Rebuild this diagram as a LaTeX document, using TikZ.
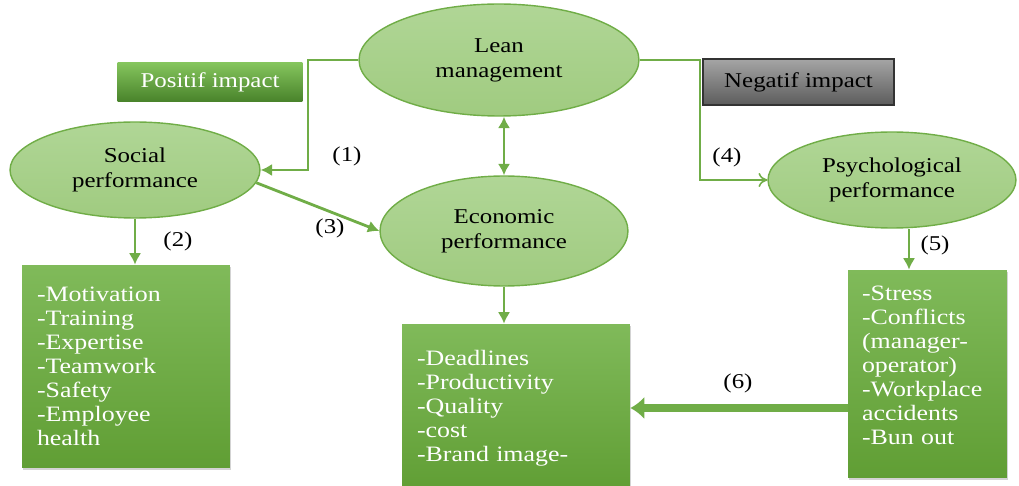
\documentclass[tikz,border=0pt]{standalone}
\usepackage{fontspec}
\setmainfont[FakeStretch=1.18]{Liberation Serif}
\usepackage{xcolor}
\usetikzlibrary{shapes.geometric,shadows,arrows.meta}
\definecolor{leafgreen}{RGB}{112,173,71}
\definecolor{ellipsetop}{RGB}{176,214,150}
\definecolor{ellipsebot}{RGB}{160,203,128}
\definecolor{boxtop}{RGB}{128,186,90}
\definecolor{boxbot}{RGB}{96,158,52}
\definecolor{positop}{RGB}{134,198,94}
\definecolor{posibot}{RGB}{72,130,42}
\definecolor{negatop}{RGB}{165,165,165}
\definecolor{negabot}{RGB}{92,92,92}
\tikzstyle{perf}=[ellipse, draw=leafgreen, line width=.8pt, top color=ellipsetop, bottom color=ellipsebot, align=center, font=\fontsize{12}{14.2}\selectfont]
\tikzstyle{items}=[rectangle, top color=boxtop, bottom color=boxbot, text=white, align=left, inner xsep=0.3cm, font=\fontsize{12.5}{13.7}\selectfont, drop shadow={opacity=.35,shadow xshift=.6pt,shadow yshift=-1.2pt}]
\tikzset{impact/.style={rectangle, font=\fontsize{12}{14}\selectfont}}
\tikzset{link/.style={-{Latex[length=6.5pt,width=7pt]}, line width=1.6pt, color=leafgreen}}
\tikzset{thinlink/.style={-{To[length=5pt,width=8pt]}, line width=.9pt, color=leafgreen}}
\tikzset{num/.style={font=\fontsize{12}{14}\selectfont}}

\begin{document}
\begin{tikzpicture}[x=0.02cm,y=-0.02cm]
  \useasboundingbox (0,0) rectangle (1019,486);
  %% Performance ellipses
  \draw (499,60) node[perf, minimum width=5.6cm, minimum height=2.24cm] (lean) {Lean\\management};
  \draw (135,170) node[perf, minimum width=5cm, minimum height=1.92cm] (soc) {Social\\performance};
  \draw (504,231) node[perf, minimum width=4.96cm, minimum height=2.2cm] (eco) {Economic\\performance};
  \draw (892,180) node[perf, minimum width=4.96cm, minimum height=1.92cm] (psy) {Psychological\\performance};

  %% Impact tags
  \draw (210,82) node[impact, top color=positop, bottom color=posibot, text=white, minimum width=3.7cm, minimum height=.8cm] (posi) {Positif impact};
  \draw (798.5,82) node[impact, draw=black!80, line width=.6pt, top color=negatop, bottom color=negabot, minimum width=3.82cm, minimum height=.92cm] (nega) {Negatif impact};

  %% Item lists
  \draw (126,366.5) node[items, text width=3.56cm, minimum height=4.06cm] (socbox) {-Motivation\\-Training\\-Expertise\\-Teamwork\\-Safety\\-Employee\\health};
  \draw (516,408) node[items, text width=3.96cm, minimum height=3.36cm] (ecobox) {-Deadlines\\-Productivity\\-Quality\\-cost\\-Brand image-};
  \draw (927.5,374) node[items, inner xsep=0.28cm, text width=2.62cm, minimum height=4.16cm] (psybox) {-Stress\\-Conflicts\\(manager-\\operator)\\-Workplace\\accidents\\-Bun out\\[-4pt]\mbox{}};

  %% Links
  \coordinate (bend1) at (308,60);
  \coordinate (bend4) at (700,60);
  \draw[link] (lean.west) -- (bend1) |- (soc.east);
  \draw[link] (soc.south) -- (soc.south |- socbox.north);
  \draw[link] (soc.-6) -- (eco.west);
  \draw[link, {Latex[length=6.5pt,width=7pt]}-{Latex[length=6.5pt,width=7pt]}] (lean.south -| eco.north) -- (eco.north);
  \draw[link] (eco.south) -- (eco.south |- ecobox.north);
  \draw[thinlink] (lean.east) -- (bend4) |- (psy.west);
  \draw[link] ([xshift=0.34cm]psy.south) -- ([xshift=0.34cm]psy.south |- psybox.north);
  \draw[-{Latex[length=8pt,width=13pt]}, line width=4.5pt, color=leafgreen] (psybox.west |- ecobox.east) -- (ecobox.east);

  %% Link numbers
  \draw (347,156) node[num] (lab1) {(1)};
  \draw (178,241) node[num] (lab2) {(2)};
  \draw (330,228) node[num] (lab3) {(3)};
  \draw (727,157) node[num] (lab4) {(4)};
  \draw (935,245) node[num] (lab5) {(5)};
  \draw (738,383) node[num] (lab6) {(6)};
\end{tikzpicture}
\end{document}
